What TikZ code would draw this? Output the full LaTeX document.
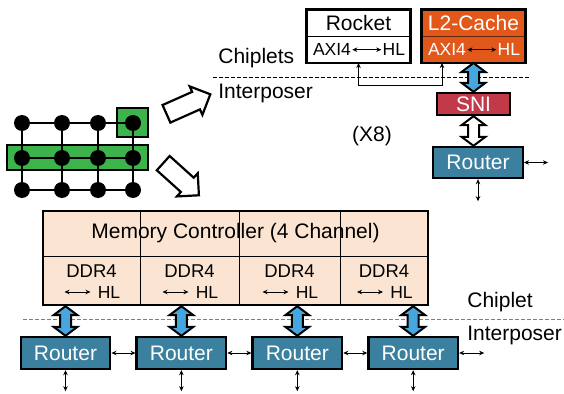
\documentclass[tikz,border=0pt]{standalone}
\usepackage{fontspec}
\setmainfont{Liberation Sans}
\usetikzlibrary{positioning,shapes.arrows,calc,arrows.meta}
\tikzset{>={Stealth[length=5pt,width=4.5pt]}}

\definecolor{routerblue}{HTML}{3B809F}
\definecolor{snired}{HTML}{C23A4A}
\definecolor{cacheorange}{HTML}{E2581B}
\definecolor{mcpeach}{HTML}{FBE5D2}
\definecolor{linkblue}{HTML}{46A6DE}
\definecolor{meshgreen}{HTML}{3CB44B}

\newcommand\lblfont{\fontsize{21}{24}\selectfont}
\newcommand\subfont{\fontsize{17.5}{20}\selectfont}

\begin{document}
\begin{tikzpicture}[x=1pt,y=-1pt,<->,line width=0.7pt,node distance=24pt]
      \tikzstyle{router}=[draw=black,line width=2.4pt,fill=routerblue,text=white,font=\lblfont,
                          minimum width=89.5pt,minimum height=32pt,inner sep=0pt]
      \tikzstyle{half}=[draw=black,line width=0.7pt,minimum width=103pt,minimum height=26pt,inner sep=0pt,font=\lblfont]
      \tikzstyle{iftxt}=[inner sep=1pt,font=\subfont]
      \tikzstyle{lbl}=[inner sep=0pt,font=\lblfont]
      \tikzstyle{sep}=[-,dash pattern=on 3.5pt off 2.5pt,line width=0.8pt]
      \tikzstyle{meshnode}=[circle,fill=black,minimum size=16pt,inner sep=0pt]
      \tikzstyle{hilite}=[draw=black,line width=2pt,fill=meshgreen,inner sep=0pt]
      \tikzstyle{hollow}=[-,single arrow,draw=black,line width=2.2pt,fill=white,
                          minimum height=48pt,inner sep=8.5pt,single arrow head extend=6pt]
      \tikzstyle{fatlink}=[-,draw=black,line width=2pt,to path={
          let \p1=(\tikztostart), \p2=(\tikztotarget) in
          (\x1,\y1) -- (\x1+12pt,\y1-9pt) -- (\x1+5.5pt,\y1-9pt) -- (\x1+5.5pt,\y2+9pt)
          -- (\x1+12pt,\y2+9pt) -- (\x1,\y2) -- (\x1-12pt,\y2+9pt) -- (\x1-5.5pt,\y2+9pt)
          -- (\x1-5.5pt,\y1-9pt) -- (\x1-12pt,\y1-9pt) -- cycle}]

      \useasboundingbox (0,0) rectangle (564,393);

      % mesh with the selected tile and row
      \node[hilite,minimum width=31pt,minimum height=29pt]  (tile) at (132.5,122.5) {};
      \node[hilite,minimum width=141pt,minimum height=25pt] (row)  at (77.5,157.5) {};
      \foreach \c/\x in {1/22,2/62,3/98,4/133}
        \foreach \r/\y in {1/123,2/158,3/190}
          \node[meshnode] (m\c\r) at (\x,\y) {};
      \foreach \r in {1,2,3}
        \draw[-,line width=2pt] (m1\r) -- (m2\r) -- (m3\r) -- (m4\r);
      \foreach \c in {1,2,3,4}
        \draw[-,line width=2pt] (m\c1) -- (m\c2) -- (m\c3);

      \node[hollow,rotate=24]  (zoomup)   at (184,106) {};
      \node[hollow,rotate=-42] (zoomdown) at (177.5,176) {};

      % core chiplet: Rocket + L2
      \node[half,fill=white] (rocket) at (358.5,23) {Rocket};
      \node[half,fill=white,below=0pt of rocket] (rocketif) {};
      \draw[-,line width=2.4pt] (rocket.north west) rectangle (rocketif.south east);
      \node[iftxt,anchor=west] (rax) at ([xshift=5pt]rocketif.west) {AXI4};
      \node[iftxt,anchor=east] (rhl) at ([xshift=-4pt]rocketif.east) {HL};
      \draw (rax) -- (rhl);

      \node[half,fill=cacheorange,text=white,draw=black!55!cacheorange] (l2) at (473.5,23) {L2-Cache};
      \node[half,fill=cacheorange,draw=black!55!cacheorange,below=0pt of l2] (l2if) {};
      \draw[-,line width=2.4pt] (l2.north west) rectangle (l2if.south east);
      \node[iftxt,anchor=west,text=white] (lax) at ([xshift=5pt]l2if.west) {AXI4};
      \node[iftxt,anchor=east,text=white] (lhl) at ([xshift=-4pt]l2if.east) {HL};
      \draw (lax) -- (lhl);

      \draw (rocketif.south) -- ++(0,22) -| ([xshift=-31.5pt]l2if.south);

      \draw[sep] (213,77) -- (530,77);
      \node[lbl,anchor=west] (chiplets) at (218,58) {Chiplets};
      \node[lbl,anchor=west] (interp)   at (218,93) {Interposer};
      \node[lbl] (times8) at (372,136) {(X8)};

      \node[router,fill=snired,minimum width=73pt,minimum height=22pt] (sni) at (473.5,104) {SNI};
      \node[router,minimum height=31pt] (rtop) at (478,162.5) {Router};
      \draw[fatlink,fill=linkblue] (l2if.south) to (sni.north);
      \draw[fatlink,fill=white] (sni.south) to (sni.south |- rtop.north);
      \draw (rtop.east) -- ++(24,0) coordinate (rtopE);
      \draw (rtop.south) -- ++(0,22) coordinate (rtopS);

      % memory chiplet
      \node[draw=black,line width=2.4pt,fill=mcpeach,minimum width=385pt,minimum height=94pt] (mc) at (235.5,258) {};
      \draw[-] (mc.west |- 0,256) -- (mc.east |- 0,256);
      \foreach \x in {140,239,340}
        \draw[-] (mc.north -| \x,0) -- (mc.south -| \x,0);
      \node[lbl] (mctitle) at (235.5,233) {Memory Controller (4 Channel)};
      \foreach \cx/\i in {91.5/1,189.5/2,289.5/3,384/4} {
        \node[iftxt,font=\fontsize{18.5}{20}\selectfont] (ddr\i) at (\cx,271) {DDR4};
        \node[iftxt,anchor=west] (hl\i) at (\cx+5,292) {HL};
        \draw ([xshift=-32pt]hl\i.west) -- ([xshift=-6pt]hl\i.west);
      }

      \draw[sep,gray] (23,319) -- (564,319);
      \node[lbl,anchor=west] (chiplet) at (467,302) {Chiplet};
      \node[lbl,anchor=west] (interp2) at (467,335) {Interposer};

      % interposer routers
      \node[router] (r1) at (65.5,353) {Router};
      \node[router,right=of r1] (r2) {Router};
      \node[router,right=of r2] (r3) {Router};
      \node[router,right=of r3] (r4) {Router};
      \foreach \i in {1,2,3,4} {
        \draw[fatlink,fill=linkblue] (mc.south -| r\i.north) to (r\i.north);
        \draw (r\i.south) -- ++(0,21) coordinate (r\i S);
      }
      \draw (r1) -- (r2);
      \draw (r2) -- (r3);
      \draw (r3) -- (r4);
      \draw (r4.east) -- ++(25,0) coordinate (r4E);
\end{tikzpicture}
\end{document}
